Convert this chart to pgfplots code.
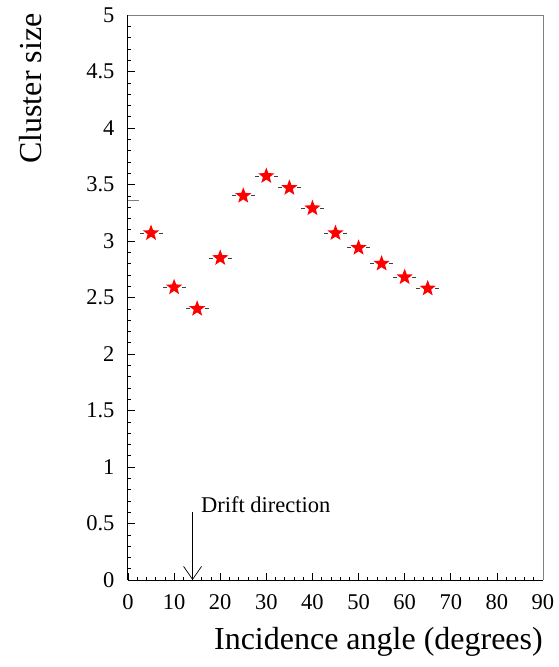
\documentclass[border=0pt]{standalone}
\usepackage{fontspec}
\setmainfont{Liberation Serif}
\usepackage{pgfplots}
\pgfplotsset{compat=1.18}
\usetikzlibrary{arrows.meta}

% filled five-point star mark
\pgfdeclareplotmark{fstar}{%
  \pgfpathmoveto{\pgfqpointpolar{90}{\pgfplotmarksize}}%
  \pgfpathlineto{\pgfqpointpolar{126}{0.42\pgfplotmarksize}}%
  \pgfpathlineto{\pgfqpointpolar{162}{\pgfplotmarksize}}%
  \pgfpathlineto{\pgfqpointpolar{198}{0.42\pgfplotmarksize}}%
  \pgfpathlineto{\pgfqpointpolar{234}{\pgfplotmarksize}}%
  \pgfpathlineto{\pgfqpointpolar{270}{0.42\pgfplotmarksize}}%
  \pgfpathlineto{\pgfqpointpolar{306}{\pgfplotmarksize}}%
  \pgfpathlineto{\pgfqpointpolar{342}{0.42\pgfplotmarksize}}%
  \pgfpathlineto{\pgfqpointpolar{18}{\pgfplotmarksize}}%
  \pgfpathlineto{\pgfqpointpolar{54}{0.42\pgfplotmarksize}}%
  \pgfpathclose\pgfusepathqfill}

\begin{document}
\begin{tikzpicture}
\path[use as bounding box] (-128pt,-87pt) rectangle (430pt,580pt);
\begin{axis}[
  at={(0,0)}, anchor=origin,
  scale only axis, width=415pt, height=565pt,
  xmin=0, xmax=90, ymin=0, ymax=5,
  axis x line*=bottom, axis y line*=left,
  axis line style={black, line width=1pt, -},
  xtick={0,10,...,90}, minor x tick num=4,
  ytick={0,0.5,...,5}, minor y tick num=4,
  tick style={black, line width=0.6pt},
  major tick length=7pt, minor tick length=3.5pt,
  tick align=inside,
  /pgf/number format/assume math mode=true,
  ticklabel style={font=\fontsize{22.5}{24}\selectfont},
  xticklabel style={yshift=-11pt},
  yticklabel style={xshift=-10pt},
  xlabel={Incidence angle (degrees)},
  xlabel style={font=\fontsize{32}{36}\selectfont, at={(rel axis cs:1,0)}, anchor=east, yshift=-62pt, inner sep=0pt},
  ylabel={Cluster size},
  ylabel style={font=\fontsize{32}{36}\selectfont, at={(rel axis cs:-0.234,1.003)}, anchor=east, inner sep=0pt},
  clip=false,
]
\draw[gray, line width=0.8pt] (rel axis cs:0,1) -- (rel axis cs:1,1) -- (rel axis cs:1,0);
\draw[gray, line width=1pt] (axis cs:0,3.36) -- (axis cs:2.4,3.36);

\addplot[only marks, mark=fstar, mark size=8.5pt, red,
  error bars/.cd, x dir=both, x fixed=2.5,
  error bar style={black!75, line width=0.9pt, dash pattern=on 4pt off 15pt, dash phase=11.5pt},
  error mark=none]
  coordinates {
  (5,3.07) (10,2.59) (15,2.40) (20,2.85) (25,3.40) (30,3.575) (35,3.47)
  (40,3.29) (45,3.07) (50,2.94) (55,2.80) (60,2.68) (65,2.58)
  };

\draw[-{Straight Barb[length=13pt,width=18pt]}, line width=0.7pt] (axis cs:14,0.6) -- (axis cs:14,0);
\node[anchor=base west, inner sep=0pt, font=\fontsize{22.5}{26}\selectfont] at (axis cs:15.8,0.6) {Drift direction};
\end{axis}
\end{tikzpicture}
\end{document}
